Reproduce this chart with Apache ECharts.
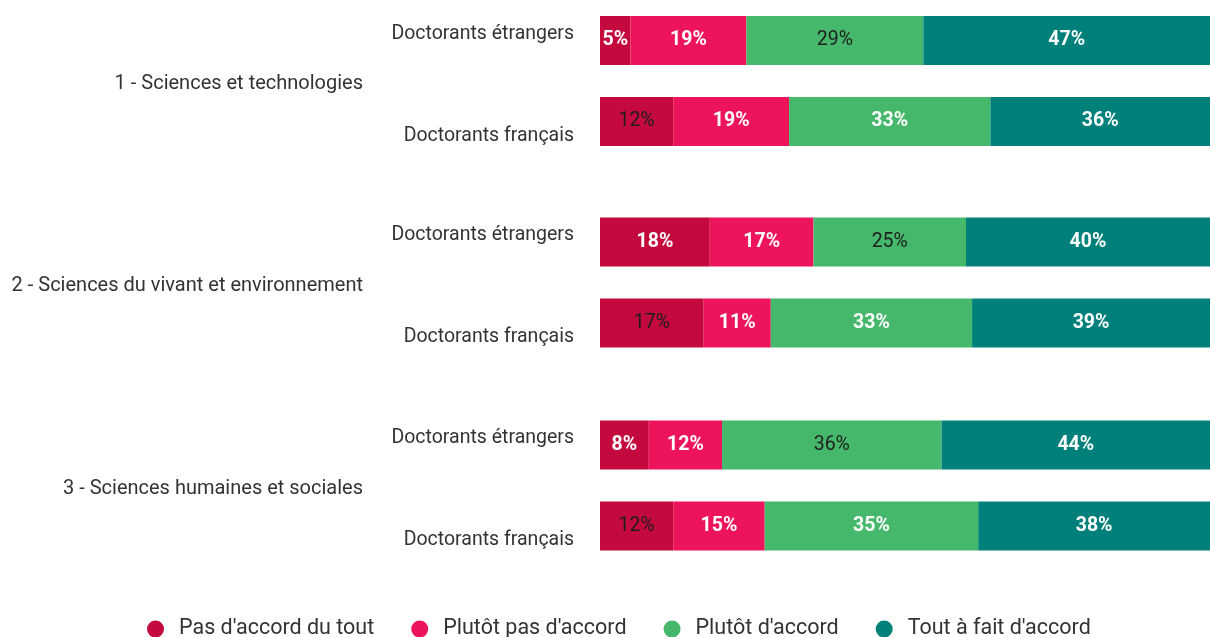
<!DOCTYPE html>
<html>
<head>
<meta charset="utf-8">
<script src="https://cdn.jsdelivr.net/npm/echarts@6/dist/echarts.min.js"></script>
<style>
  html, body { margin: 0; padding: 0; background: #fff; }
  #chart { width: 1210px; height: 637px; }
</style>
</head>
<body>
<div id="chart"></div>
<script>
// Disciplines (one block each) and the two populations inside each block
const groups = [
  '1 - Sciences et technologies',
  '2 - Sciences du vivant et environnement',
  '3 - Sciences humaines et sociales'
];
const populations = ['Doctorants étrangers', 'Doctorants français'];

// Answer levels, in stacking order
const answers = ["Pas d'accord du tout", "Plutôt pas d'accord", "Plutôt d'accord", "Tout à fait d'accord"];

// Shares (%) per row, rows ordered: group 1 (étrangers, français), group 2 (...), group 3 (...)
const pasDuTout    = [5, 12, 18, 17, 8, 12];
const plutotPas    = [19, 19, 17, 11, 12, 15];
const plutotOui    = [29, 33, 25, 33, 36, 35];
const toutAFait    = [47, 36, 40, 39, 44, 38];
const shares = [pasDuTout, plutotPas, plutotOui, toutAFait];

// Segments whose value label is written in dark text: [answer index, row index]
const darkLabels = [[0, 1], [2, 0], [2, 2], [0, 3], [2, 4], [0, 5]];

const colors = ['#c4093f', '#ee145b', '#45b86b', '#00807a'];

const gridTops = [0, 201.5, 404.5];
const gridHeight = 162;
const FONT = 'Roboto';

const grid = [], xAxis = [], yAxis = [], series = [];

groups.forEach((g, gi) => {
  grid.push({
    left: 600, right: 0, top: gridTops[gi], height: gridHeight,
    containLabel: false, outerBoundsMode: 'none'
  });
  xAxis.push({
    gridIndex: gi, type: 'value', min: 0, max: 100,
    show: false
  });
  // population labels
  yAxis.push({
    gridIndex: gi, type: 'category', inverse: true, data: populations, position: 'left',
    axisLine: { show: false }, axisTick: { show: false }, splitLine: { show: false },
    axisLabel: {
      margin: 26, color: '#333', fontFamily: FONT, fontSize: 19.5,
      formatter: (v, i) => i === 0 ? '{up|' + v + '}' : '{down|' + v + '}',
      rich: {
        up: { color: '#333', fontFamily: FONT, fontSize: 19.5, padding: [0, 0, 13, 0] },
        down: { color: '#333', fontFamily: FONT, fontSize: 19.5, padding: [29, 0, 0, 0] }
      }
    }
  });
  // discipline label
  yAxis.push({
    gridIndex: gi, type: 'category', data: [g], position: 'left', offset: 229,
    axisLine: { show: false }, axisTick: { show: false }, splitLine: { show: false },
    axisLabel: {
      margin: 8, color: '#333', fontFamily: FONT, fontSize: 20,
      formatter: v => '{t|' + v + '}',
      rich: { t: { color: '#333', fontFamily: FONT, fontSize: 20, padding: [6, 0, 0, 0] } }
    }
  });

  answers.forEach((a, ai) => {
    const data = [0, 1].map(pi => {
      const row = gi * 2 + pi;
      const dark = darkLabels.some(d => d[0] === ai && d[1] === row);
      return {
        value: shares[ai][row],
        label: dark
          ? { color: '#1e1e1e', fontWeight: 'normal' }
          : { color: '#ffffff', fontWeight: 'bold' }
      };
    });
    series.push({
      name: a, type: 'bar', stack: 'g' + gi,
      xAxisIndex: gi, yAxisIndex: gi * 2,
      barWidth: 49,
      itemStyle: { color: colors[ai] },
      label: {
        show: true, position: 'inside', fontFamily: FONT, fontSize: 19.5,
        formatter: p => p.value + '%'
      },
      emphasis: { disabled: true },
      data
    });
  });
});

const chart = echarts.init(document.getElementById('chart'), null, { renderer: 'canvas' });
chart.setOption({
  animation: false,
  color: colors,
  grid, xAxis, yAxis, series,
  legend: {
    data: answers,
    bottom: -8, left: 142,
    icon: 'circle', itemWidth: 37, itemHeight: 17, itemGap: 37,
    textStyle: { color: '#333', fontFamily: FONT, fontSize: 21.5 }
  }
});
</script>
</body>
</html>
